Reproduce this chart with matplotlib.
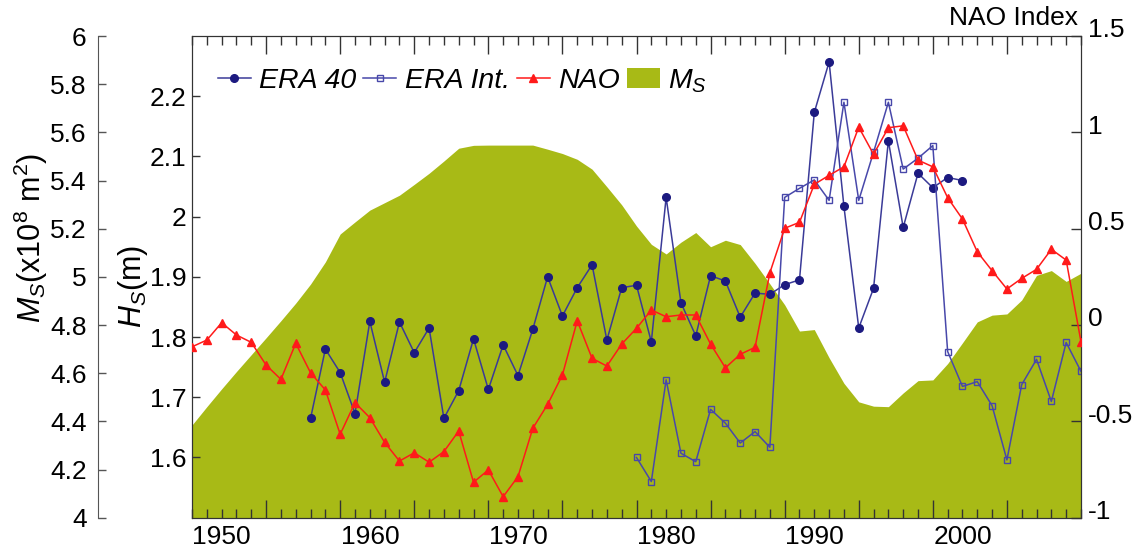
import numpy as np
import matplotlib
matplotlib.use('Agg')
import matplotlib.pyplot as plt
import matplotlib.transforms as mtransforms
from matplotlib.ticker import FuncFormatter, MultipleLocator, FixedLocator
from matplotlib.lines import Line2D
from matplotlib.patches import Patch

plt.rcParams['font.family'] = ['Liberation Sans', 'DejaVu Sans']
plt.rcParams['mathtext.fontset'] = 'custom'
plt.rcParams['mathtext.rm'] = 'Liberation Sans'
plt.rcParams['mathtext.it'] = 'Liberation Sans:italic'

# annual series
years = np.arange(1948, 2009)
nao = [-0.113, -0.078, 0.012, -0.052, -0.09, -0.208, -0.282, -0.095, -0.248, -0.337,
       -0.567, -0.403, -0.481, -0.609, -0.706, -0.663, -0.712, -0.657, -0.55, -0.816,
       -0.752, -0.891, -0.787, -0.536, -0.412, -0.259, 0.022, -0.173, -0.213, -0.099,
       -0.017, 0.078, 0.043, 0.052, 0.052, -0.099, -0.222, -0.152, -0.116, 0.271,
       0.502, 0.533, 0.73, 0.777, 0.821, 1.027, 0.886, 1.024, 1.034, 0.856,
       0.821, 0.661, 0.55, 0.38, 0.282, 0.187, 0.242, 0.289, 0.393, 0.337,
       -0.087]
ms = [4.385, 4.461, 4.535, 4.607, 4.677, 4.747, 4.818, 4.891, 4.97, 5.062,
      5.178, 5.228, 5.277, 5.308, 5.339, 5.384, 5.43, 5.481, 5.534, 5.546,
      5.547, 5.547, 5.547, 5.547, 5.53, 5.512, 5.488, 5.447, 5.374, 5.299,
      5.211, 5.135, 5.095, 5.144, 5.184, 5.125, 5.152, 5.134, 5.056, 4.971,
      4.884, 4.775, 4.781, 4.664, 4.558, 4.481, 4.463, 4.461, 4.518, 4.569,
      4.572, 4.64, 4.726, 4.813, 4.841, 4.846, 4.904, 5.006, 5.026, 4.981,
      5.015]

era40_years = np.arange(1956, 2001)
era40 = [1.665, 1.78, 1.741, 1.673, 1.826, 1.725, 1.825, 1.774, 1.815, 1.665,
         1.711, 1.797, 1.713, 1.787, 1.736, 1.813, 1.90, 1.835, 1.882, 1.92,
         1.795, 1.882, 1.886, 1.792, 2.032, 1.857, 1.802, 1.902, 1.893, 1.833,
         1.873, 1.871, 1.887, 1.895, 2.173, 2.257, 2.017, 1.815, 1.881, 2.126,
         1.982, 2.072, 2.048, 2.065, 2.06]

eraint_years = np.arange(1978, 2009)
eraint = [1.60, 1.56, 1.729, 1.607, 1.593, 1.68, 1.657, 1.624, 1.643, 1.617,
          2.032, 2.047, 2.061, 2.027, 2.19, 2.027, 2.107, 2.19, 2.079, 2.097,
          2.118, 1.776, 1.718, 1.726, 1.686, 1.596, 1.721, 1.763, 1.693, 1.791,
          1.743]

decades = [1950, 1960, 1970, 1980, 1990, 2000]

green = '#a8ba16'
navy = '#1c1a80'
navy_line = '#3a3a98'
sq_col = '#4848aa'
red = '#ff1a1a'
frame = '#333333'
fs = 19
fmt = FuncFormatter(lambda v, p: '%g' % round(v, 2))

fig = plt.figure(figsize=(11.41, 5.48), dpi=100)
pos = [0.1683, 0.0553, 0.7791, 0.879]

# M_S area, on its own detached left axis
ax_ms = fig.add_axes(pos)
ax_ms.fill_between(years, 4, ms, color=green, lw=0)
ax_ms.set_xlim(1948, 2008)
ax_ms.set_ylim(4, 6)
ax_ms.xaxis.set_visible(False)
for s in ['top', 'right', 'bottom']:
    ax_ms.spines[s].set_visible(False)
ax_ms.spines['left'].set_position(('axes', -0.106))
ax_ms.spines['left'].set_color('#555555')
ax_ms.yaxis.set_major_locator(MultipleLocator(0.2))
ax_ms.yaxis.set_major_formatter(fmt)
ax_ms.tick_params(axis='y', direction='in', length=6, width=1, colors='#555555',
                  labelcolor='black', labelsize=fs, pad=8)
ax_ms.set_ylabel(r'$M_S$(x10$^{8}$ m$^{2}$)', fontsize=22)
ax_ms.yaxis.set_label_coords(-0.16, 0.58)

# wave height axis (left frame)
ax = fig.add_axes(pos, sharex=ax_ms)
ax.patch.set_visible(False)
ax.plot(era40_years, era40, '-o', color=navy_line, lw=1.1, ms=5.5,
        mfc=navy, mec=navy, zorder=3)
ax.plot(eraint_years, eraint, '-s', color=sq_col, lw=1.1, ms=5,
        mfc='none', mec=sq_col, mew=1, zorder=3)
ax.set_ylim(1.5, 2.3)
ax.set_yticks([1.6, 1.7, 1.8, 1.9, 2.0, 2.1, 2.2])
ax.yaxis.set_major_formatter(fmt)
ax.tick_params(axis='y', direction='in', length=6, width=1, colors=frame,
               labelcolor='black', labelsize=fs, pad=4)
ax.set_ylabel(r'$H_S$(m)', fontsize=22)
ax.yaxis.set_label_coords(-0.047, 0.48)

# year ticks: long every 5 years from 1953, short every year
ax.xaxis.set_major_locator(FixedLocator(np.arange(1953, 2008, 5)))
ax.xaxis.set_minor_locator(MultipleLocator(1))
ax.xaxis.set_major_formatter(FuncFormatter(lambda v, p: ''))
ax.tick_params(axis='x', which='major', direction='in', length=13, width=1,
               colors=frame, top=True, bottom=True)
ax.tick_params(axis='x', which='minor', direction='in', length=6.8, width=1,
               colors=frame, top=True, bottom=True)
for s in ax.spines.values():
    s.set_color(frame)

sec = ax.secondary_xaxis('bottom')
sec.set_xticks(decades)
sec.set_xticklabels([str(d) for d in decades])
sec.tick_params(length=0, labelsize=fs, pad=5)
sec.spines['bottom'].set_visible(False)

# NAO on the right
ax_nao = ax.twinx()
ax_nao.plot(years, nao, '-^', color=red, lw=1.1, ms=6, mfc=red, mec=red, zorder=3)
ax_nao.set_ylim(-1, 1.5)
ax_nao.set_yticks([-1, -0.5, 0, 0.5, 1, 1.5])
ax_nao.yaxis.set_major_formatter(FuncFormatter(lambda v, p: '%g' % v))
ax_nao.tick_params(axis='y', direction='in', length=7, width=1, colors=frame,
                   labelcolor='black', labelsize=fs, pad=5)
# right-hand labels sit a little above their ticks
lift = mtransforms.ScaledTranslation(0, 6 / 72, fig.dpi_scale_trans)
for lab in ax_nao.get_yticklabels():
    lab.set_transform(lab.get_transform() + lift)
for s in ax_nao.spines.values():
    s.set_color(frame)
ax_nao.text(0.997, 1.037, 'NAO Index', transform=ax_nao.transAxes,
            ha='right', va='center', fontsize=fs)

handles = [
    Line2D([], [], color=navy_line, lw=1.1, marker='o', ms=5.5, mfc=navy, mec=navy),
    Line2D([], [], color=sq_col, lw=1.1, marker='s', ms=5, mfc='none', mec=sq_col),
    Line2D([], [], color=red, lw=1.1, marker='^', ms=6, mfc=red, mec=red),
    Patch(facecolor=green, edgecolor='none'),
]
labels = ['ERA 40', 'ERA Int.', 'NAO', r'$M_S$']
ax_nao.legend(handles, labels, ncol=4, loc='upper left',
              bbox_to_anchor=(0.013, 0.965), frameon=False, borderpad=0,
              handlelength=1.15, handletextpad=0.3, columnspacing=0.25,
              prop={'style': 'italic', 'size': 20.5})

fig.savefig('out.png', dpi=100)
